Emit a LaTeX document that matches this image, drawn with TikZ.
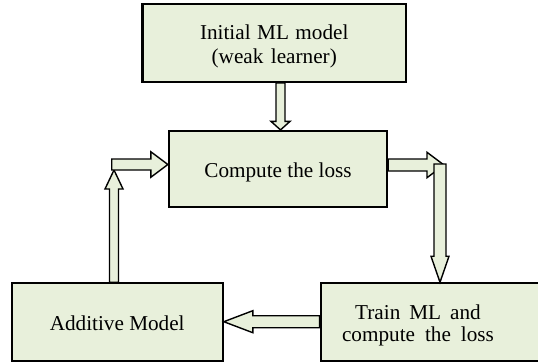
\documentclass[tikz,border=0pt]{standalone}
\usepackage{fontspec}
\setmainfont{Liberation Serif}
\usetikzlibrary{calc}
\definecolor{boxfill}{RGB}{232,240,219}
\tikzset{
  box/.style={draw=black, line width=2.2pt, fill=boxfill, inner sep=0pt},
  lbl/.style={inner sep=0pt, align=center, font=\fontsize{21.2}{24}\selectfont},
  blockarr/.style={draw=black, line width=1.4pt, fill=boxfill, line join=miter}
}
% wider word gap used in some labels
\newcommand\wgap[1]{\hspace{#1}}
% vertical block arrow: start, tip, shaft half width, head half width, signed head length
\newcommand\vblock[5]{\draw[blockarr] ($(#1)+(-#3,0)$) -- ($(#2)+(-#3,#5)$) -- ($(#2)+(-#4,#5)$) -- (#2) -- ($(#2)+(#4,#5)$) -- ($(#2)+(#3,#5)$) -- ($(#1)+(#3,0)$) -- cycle;}
% horizontal block arrow: start, tip, shaft half height, head half height, signed head length
\newcommand\hblock[5]{\draw[blockarr] ($(#1)+(0,-#3)$) -- ($(#2)+(#5,-#3)$) -- ($(#2)+(#5,-#4)$) -- (#2) -- ($(#2)+(#5,#4)$) -- ($(#2)+(#5,#3)$) -- ($(#1)+(0,#3)$) -- cycle;}
\begin{document}
\begin{tikzpicture}[x=1pt, y=-1pt]
\useasboundingbox (0,0) rectangle (538,362);
\clip (0,0) rectangle (538,362);

% boxes
\node[box, minimum width=263.5pt, minimum height=77.4pt] (init) at (274.25,43) {};
\node[box, minimum width=218pt, minimum height=76pt] (comp) at (278,169) {};
\node[box, minimum width=211pt, minimum height=77.7pt] (add) at (117.2,322.2) {};
\node[box, minimum width=224.3pt, minimum height=77.7pt] (train) at (432.8,322.2) {};

% box texts
\node[lbl] (inittext) at ($(init.center)+(0,3)$) {Initial\wgap{6.5pt}ML\wgap{6.5pt}model\\(weak\wgap{7.5pt}learner)};
\node[lbl, anchor=base] (comptext) at (278,177.3) {Compute the loss};
\node[lbl, anchor=base] (addtext) at (117.2,330.7) {Additive Model};
\node[lbl, font=\fontsize{21.2}{22.7}\selectfont] (traintext) at (418,325.4) {Train\wgap{9pt}ML\wgap{9pt}and\\compute\wgap{10pt}the\wgap{10pt}loss};

% guide coordinates for the arrow lines
\coordinate (xa) at (280.5,0);
\coordinate (yr) at (0,165);
\coordinate (rc) at (444,165);
\coordinate (xr) at (440,0);
\coordinate (rtop) at (440,164);
\coordinate (xl) at (114,0);
\coordinate (lc) at (114,170);
\coordinate (lstart) at (111.7,164.5);
\coordinate (yb) at (0,321.7);

% initial model -> compute the loss
\vblock{init.south -| xa}{comp.north -| xa}{4.5}{9.5}{-8.5}
% compute the loss -> train
\hblock{comp.east |- yr}{rc}{6}{12.7}{-17}
\vblock{rtop}{train.north -| xr}{6}{9}{-26}
% train -> additive model
\hblock{train.west |- yb}{add.east |- yb}{6}{11}{29}
% additive model -> compute the loss
\vblock{add.north -| xl}{lc}{4.5}{9}{19}
\hblock{lstart}{comp.west |- lstart}{5.5}{12.7}{-17}
\end{tikzpicture}
\end{document}
